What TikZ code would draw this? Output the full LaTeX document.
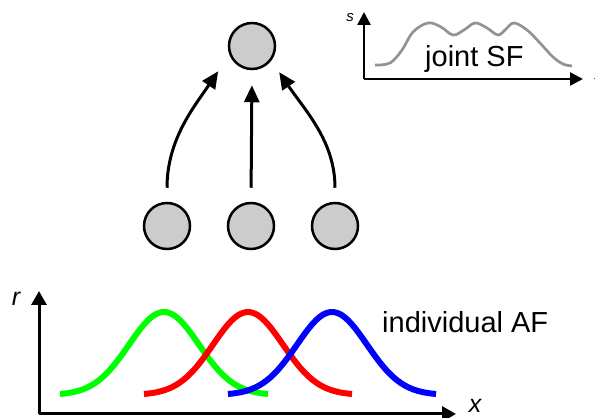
\documentclass[tikz,border=0pt]{standalone}
\usepackage{fontspec}
\setmainfont{Liberation Sans}
\usetikzlibrary{arrows.meta}

\begin{document}
\begin{tikzpicture}[
    x=1pt, y=1pt,
    unit/.style={circle, draw, line width=2.5pt, fill=black!20, minimum size=46pt, inner sep=0pt},
    link/.style={-{Triangle[length=17pt, width=15pt]}, line width=3pt},
    axis/.style={-{Triangle[length=14pt, width=15pt]}, line width=3pt},
    small axis/.style={-{Triangle[length=13pt, width=13pt]}, line width=2.6pt},
    tuning/.style={line width=6pt, smooth, samples=60},
    label/.style={font=\fontsize{29}{31}\selectfont, inner sep=0pt},
]
\useasboundingbox (0,0) rectangle (595,418);

% Units
\node[unit] (top) at (252,372) {};
\node[unit] (b1) at (167,192) {};
\node[unit] (b2) at (251,192) {};
\node[unit] (b3) at (335,192) {};

% Connections
\draw[link, shorten <=14pt, shorten >=20pt] (b1.north) to[out=90, in=236] (top.201);
\draw[link, shorten <=14pt, shorten >=15pt] (b2.north) -- (top.south);
\draw[link, shorten <=14pt, shorten >=14pt] (b3.north) to[out=90, in=-56] (top.-37);

% Joint SF plot
\coordinate (so) at (364,339);
\draw[small axis] (so) -- (364,406);
\draw[small axis] (so) -- (583,339);
\node[font=\fontsize{15}{15}\selectfont\itshape, inner sep=0pt] (slab) at (350,400) {s};
\node[font=\fontsize{14}{14}\selectfont\itshape, inner sep=0pt] (sx) at (598,342) {x};
\draw[line width=2.7pt, gray!85] plot[smooth, tension=0.6] coordinates {
    (375,353) (390,355) (402,368) (413,386) (428,395) (441,391) (453,383)
    (464,388) (475,395) (487,390) (498,383) (506,389) (514,395)
    (527,388) (540,375) (553,361) (563,354) (572,352)};
\node[label, anchor=base west] (jsf) at (425,351) {joint SF};

% Individual AF plot
\coordinate (ro) at (39,4);
\draw[axis] (ro) -- (39,127);
\draw[axis] (ro) -- (456,4);
\node[font=\fontsize{25}{25}\selectfont\itshape, inner sep=0pt] (rlab) at (16,119) {r};
\node[font=\fontsize{25}{25}\selectfont\itshape, inner sep=0pt] (xlab) at (475,12) {x};

\draw[tuning, green] plot[domain=60:268] (\x, {23+83*exp(-(\x-164)*(\x-164)/2450)});
\draw[tuning, red] plot[domain=144:352] (\x, {23+83*exp(-(\x-248)*(\x-248)/2450)});
\draw[tuning, blue] plot[domain=228:436] (\x, {23+83*exp(-(\x-332)*(\x-332)/2450)});
\node[label, anchor=base west] (iaf) at (382,85) {individual AF};

\end{tikzpicture}
\end{document}
